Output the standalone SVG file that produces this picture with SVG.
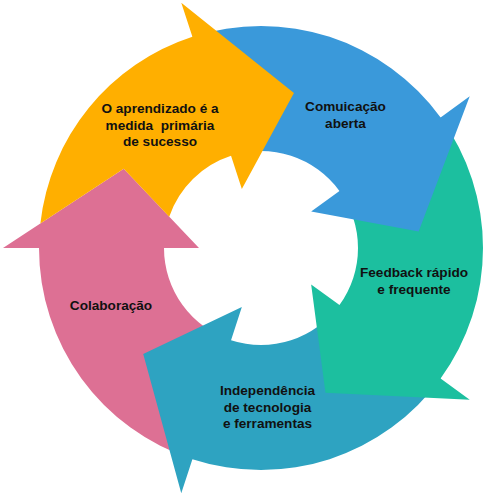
<svg xmlns="http://www.w3.org/2000/svg" width="491" height="495" viewBox="0 0 491 495">
<style>
text{font-family:"Liberation Sans",Arial,sans-serif;font-weight:bold;font-size:13.6px;fill:#111;text-anchor:middle;white-space:pre}
</style>
<rect width="491" height="495" fill="#fff"/>
<g id="connectors"></g>
<g id="colaboracao">
<path fill="#DD7094" d="M192.40,459.14 A222,222 0 0 1 39,248 L3,248 L123.73,168.75 L199,248 L164,248 A97,97 0 0 0 231.03,340.25 Z"/>
<text x="111" y="310">Colaboração</text>
</g>
<g id="independencia">
<path fill="#2EA3C1" d="M440.60,378.49 A222,222 0 0 1 192.40,459.14 L181.27,493.37 L143.21,354.06 L241.84,306.97 L231.03,340.25 A97,97 0 0 0 339.47,305.02 Z"/>
<text x="267.5" y="395">Independência</text>
<text x="267.5" y="411.7">de tecnologia</text>
<text x="267.5" y="428.3">e ferramentas</text>
</g>
<g id="feedback">
<path fill="#1CBF9F" d="M440.60,117.51 A222,222 0 0 1 440.60,378.49 L469.73,399.65 L325.47,392.80 L311.16,284.44 L339.47,305.02 A97,97 0 0 0 339.47,190.98 Z"/>
<text x="414" y="277.3">Feedback rápido</text>
<text x="414" y="294">e frequente</text>
</g>
<g id="comunicacao">
<path fill="#3A99DA" d="M192.40,36.86 A222,222 0 0 1 440.60,117.51 L469.73,96.35 L418.63,231.43 L311.16,211.56 L339.47,190.98 A97,97 0 0 0 231.03,155.75 Z"/>
<text x="345.5" y="111">Comuicação</text>
<text x="345.5" y="127.7">aberta</text>
</g>
<g id="aprendizado">
<path fill="#FFAF00" d="M40.36,223.48 A222,222 0 0 1 192.40,36.86 L181.27,2.63 L293.95,92.96 L241.84,189.03 L231.03,155.75 A97,97 0 0 0 169.21,216.64 L123.73,168.75 Z"/>
<text x="160" y="113">O aprendizado é a</text>
<text x="160" y="129.5">medida  primária</text>
<text x="160" y="146">de sucesso</text>
</g>
</svg>
